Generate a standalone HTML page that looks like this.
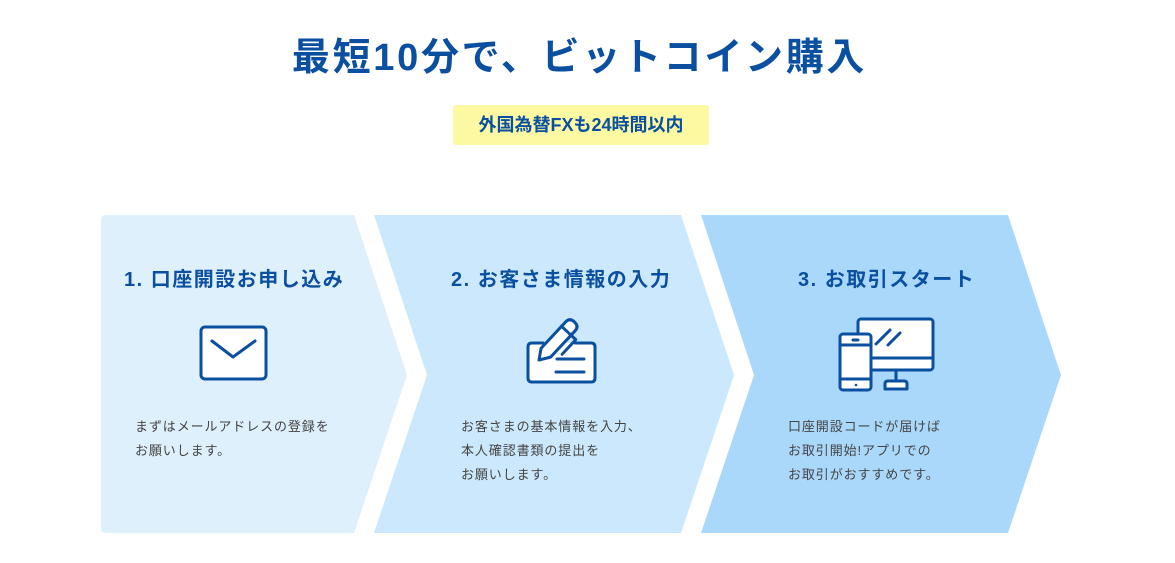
<!DOCTYPE html>
<html><head><meta charset="utf-8"><style>
body{margin:0;width:1175px;height:563px;background:#fff;position:relative;overflow:hidden;font-family:"Liberation Sans","Noto Sans CJK JP",sans-serif}
.t{position:absolute;white-space:nowrap}
h1{position:absolute;left:-8px;width:1175px;top:26px;margin:0;text-align:center;font-size:38px;font-weight:bold;color:#0a4fa0;letter-spacing:2.7px}
.badge{position:absolute;left:453px;top:105px;width:256px;height:40px;background:#fdf8a2;border-radius:3px;text-align:center;line-height:40px;font-size:18px;font-weight:bold;color:#0a4fa0}
.h{font-size:20px;font-weight:bold;color:#0a4fa0;letter-spacing:1.5px}
.p{font-size:13px;color:#444;line-height:24px;letter-spacing:0.9px}
</style></head><body>
<h1>最短10分で、ビットコイン購入</h1>
<div class="badge">外国為替FXも24時間以内</div>
<svg width="1175" height="563" style="position:absolute;left:0;top:0">
<path d="M106 215 H354 L407 375 L354 533 H106 Q101 533 101 528 V220 Q101 215 106 215Z" fill="#dff0fd"/>
<path d="M374 215 H681 L734 375 L681 533 H374 L427 375Z" fill="#cce8fc"/>
<path d="M701 215 H1008 L1061 375 L1008 533 H701 L754 375Z" fill="#aad8fb"/>
<g fill="#fff" stroke="#0a4fa0" stroke-width="3" stroke-linejoin="round" stroke-linecap="round">
<rect x="201" y="327" width="65" height="52" rx="4"/>
<path d="M212 341 L233 357 L255 341" fill="none"/>
<path d="M543 343 H532 Q528 343 528 347 V378 Q528 382 532 382 H591 Q595 382 595 378 V347 Q595 343 591 343 H575"/>
<path d="M557 359 H584 M556 372 H584" fill="none"/>
<g transform="translate(539,360) rotate(-47)">
<path d="M0 0 L10 -6.5 H46 Q52 -6.5 52 0 Q52 6.5 46 6.5 H10Z"/>
<path d="M40 -6.5 V6.5" fill="none"/>
<path d="M40 6.5 V13 H20" fill="none"/>
</g>
<rect x="858" y="319" width="75" height="51" rx="3"/>
<path d="M858 358 H933" fill="none"/>
<path d="M896 370 V380 M885 389 V384 Q885 381 888 381 H904 Q907 381 907 384 V389Z"/>
<path d="M876 344 L890 330 M888 345 L900 333" fill="none"/>
<rect x="840" y="334" width="31" height="56" rx="3"/>
<path d="M840 345 H871 M840 379 H871" fill="none"/>
<path d="M853 340 H858" fill="none"/>
</g>
<circle cx="856" cy="385" r="1.3" fill="#0a4fa0"/>
</svg>
<div class="t h" style="left:124px;top:263px">1. 口座開設お申し込み</div>
<div class="t h" style="left:451px;top:263px">2. お客さま情報の入力</div>
<div class="t h" style="left:798px;top:263px">3. お取引スタート</div>
<div class="t p" style="left:135px;top:415px">まずはメールアドレスの登録を<br>お願いします。</div>
<div class="t p" style="left:461px;top:415px">お客さまの基本情報を入力、<br>本人確認書類の提出を<br>お願いします。</div>
<div class="t p" style="left:788px;top:415px">口座開設コードが届けば<br>お取引開始!アプリでの<br>お取引がおすすめです。</div>
</body></html>
